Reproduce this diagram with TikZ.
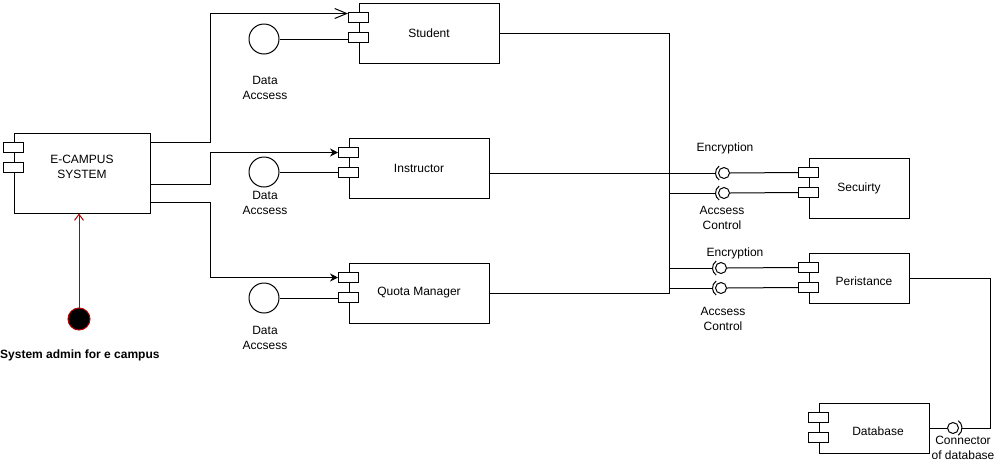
\documentclass[tikz,border=0pt]{standalone}
\usepackage{fontspec}
\setmainfont{Liberation Sans}
\usetikzlibrary{arrows.meta,positioning}
\definecolor{EcRed}{RGB}{178,0,0}
\tikzset{
  ec/comp/.style={
    draw,
    line width=1pt,
    fill=white,
    align=center,
    inner sep=2pt,
    font=\fontsize{12}{14.5}\selectfont
  },
  ec/port/.style={draw, line width=1pt, fill=white, minimum width=20pt, minimum height=10pt, inner sep=0pt},
  ec/ball/.style={circle, draw, line width=1pt, fill=white, minimum size=11pt, inner sep=0pt},
  ec/iface/.style={circle, draw, line width=1pt, fill=white, minimum size=30pt, inner sep=0pt},
  ec/actor/.style={circle, draw=EcRed, line width=1pt, fill=black, minimum size=22pt, inner sep=0pt},
  ec/line/.style={line width=1pt},
  ec/solid/.style={line width=1pt, -{Stealth[length=8pt,width=8pt]}},
  ec/open/.style={line width=1pt, -{Straight Barb[length=12pt,width=10pt]}},
  ec/red/.style={line width=1pt, draw=EcRed, -{Straight Barb[length=6pt,width=9pt]}},
  ec/label/.style={align=center, inner sep=0pt, font=\fontsize{12}{14.5}\selectfont}
}

\begin{document}
\begin{tikzpicture}[x=1pt,y=-1pt]
  \useasboundingbox (0,0) rectangle (1001,464);
  % components
  \node[ec/comp,minimum width=136pt,minimum height=80pt,
    label={[ec/label,yshift=6pt]center:{E-CAMPUS\\SYSTEM}}] (ecs) at (82,173) {};
  \node[ec/comp,minimum width=140pt,minimum height=60pt] (stu) at (429,33) {Student};
  \node[ec/comp,minimum width=140pt,minimum height=60pt] (ins) at (419,168) {Instructor};
  \node[ec/comp,minimum width=140pt,minimum height=60pt] (quo) at (419,293) {Quota Manager};
  \node[ec/comp,minimum width=100pt,minimum height=60pt] (sec) at (859,188) {Secuirty};
  \node[ec/comp,minimum width=100pt,minimum height=50pt,
    label={[ec/label,xshift=5pt,yshift=-3pt]center:Peristance}] (per) at (859,278) {};
  \node[ec/comp,minimum width=110pt,minimum height=50pt,
    label={[ec/label,xshift=4pt,yshift=-3pt]center:Database}] (db) at (874,428) {};
  \foreach \c in {ecs,stu,ins,quo,sec,per,db}{
    \node[ec/port] (\c-p1) at ([yshift=-15pt]\c.north west) {};
    \node[ec/port] (\c-p2) at ([yshift=-35pt]\c.north west) {};
  }

  % data access interfaces
  \node[ec/iface] (da1) at (264,39) {};
  \node[ec/iface] (da2) at (264,172) {};
  \node[ec/iface] (da3) at (264,298) {};
  \node[ec/label] (da1-l) at (265,88) {Data\\Accsess};
  \node[ec/label] (da2-l) at (265,203) {Data\\Accsess};
  \node[ec/label] (da3-l) at (265,338) {Data\\Accsess};
  \draw[ec/line] (da1.east) -- (da1.east -| stu-p2.west);
  \draw[ec/line] (da2.east) -- (da2.east -| ins-p2.west);
  \draw[ec/line] (da3.east) -- (da3.east -| quo-p2.west);

  % system to modules
  \draw[ec/open] ([yshift=-10pt]ecs.north east) -- ++(60,0) |- ([yshift=4pt]stu-p1.west);
  \draw[ec/solid] ([yshift=-52pt]ecs.north east) -- ++(60,0) |- (ins-p1.west);
  \draw[ec/solid] ([yshift=-70pt]ecs.north east) -- ++(60,0) |- (quo-p1.west);

  % bus
  \coordinate (bus) at (669,293);
  \draw[ec/line] (stu.east) -| (bus) -- (quo.east);

  % sockets
  \node[ec/ball] (enc1) at (724,173) {};
  \node[ec/ball] (acc1) at (724,193) {};
  \node[ec/ball] (enc2) at (721,268) {};
  \node[ec/ball] (acc2) at (721,288) {};
  \node[ec/ball] (dbc) at (953,428) {};
  \foreach \s in {enc1,acc1,enc2,acc2}
    \draw[ec/line] ([shift={(125:8.5pt)}]\s.center) arc[start angle=125,end angle=235,radius=8.5pt];
  \draw[ec/line] ([shift={(-55:9pt)}]dbc.center) arc[start angle=-55,end angle=55,radius=9pt];

  \draw[ec/line] ([yshift=-5pt]ins.east) -- ([xshift=-8.5pt]enc1.center);
  \draw[ec/line] (enc1.east) -- (sec-p1.west);
  \draw[ec/line] (bus |- acc1) -- ([xshift=-8.5pt]acc1.center);
  \draw[ec/line] (acc1.east) -- (sec-p2.west);
  \draw[ec/line] (bus |- enc2) -- ([xshift=-8.5pt]enc2.center);
  \draw[ec/line] (enc2.east) -- (per-p1.west);
  \draw[ec/line] (bus |- acc2) -- ([xshift=-8.5pt]acc2.center);
  \draw[ec/line] (acc2.east) -- (per-p2.west);

  \coordinate (dbbend) at (990,428);
  \draw[ec/line] (per.east) -| (dbbend) -- ([xshift=9pt]dbc.center);
  \draw[ec/line] (db.east) -- (dbc.west);

  \node[ec/label] (enc1-l) at (725,148) {Encryption};
  \node[ec/label] (acc1-l) at (722,218) {Accsess\\Control};
  \node[ec/label] (enc2-l) at (735,253) {Encryption};
  \node[ec/label] (acc2-l) at (723,319) {Accsess\\Control};
  \node[ec/label] (dbc-l) at (963,448) {Connector\\of database};

  % admin
  \node[ec/actor] (adm) at (79,319) {};
  \draw[ec/red] (adm) -- (adm |- ecs.south);
  \node[ec/label,font=\bfseries\fontsize{12}{14.5}\selectfont,anchor=west] (adm-l) at (0,355) {System admin for e campus};
\end{tikzpicture}
\end{document}
